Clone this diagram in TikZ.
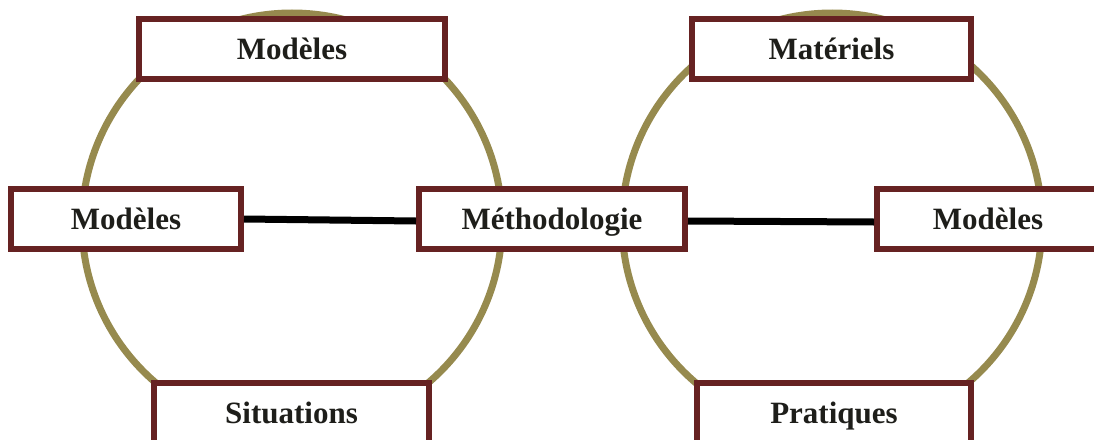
\documentclass[tikz,border=0pt]{standalone}
\usepackage{fontspec}
\setmainfont{Liberation Serif}
\definecolor{ringcol}{RGB}{150,138,78}
\definecolor{boxcol}{RGB}{102,34,34}
\definecolor{inkcol}{RGB}{30,30,26}

\tikzstyle{ring}=[draw=ringcol,line width=7pt]
\tikzstyle{box}=[draw=boxcol,fill=white,line width=6pt,minimum height=60pt,inner sep=0pt,text height=20.5pt,text depth=0pt,text=inkcol,font=\fontsize{31}{37}\selectfont\bfseries]
\tikzstyle{link}=[draw,line width=7pt]

\begin{document}
\begin{tikzpicture}[x=1pt,y=-1pt]
     \useasboundingbox (0,0) rectangle (1094,439);
     \clip (0,0) rectangle (1094,439);
     % First we draw the two rings
     \coordinate (cl) at (292,223);
     \coordinate (cr) at (832,223);
     \draw[ring] (cl) circle[radius=210pt];
     \draw[ring] (cr) circle[radius=210pt];

     % Then the boxes on top of them
     \foreach \pos/\name/\boxw/\txt in {{(292,49)/topl/306/Modèles},
       {(126,219)/midl/230/Modèles}, {(552,219)/meth/266/Méthodologie},
       {(291.5,413)/botl/275/Situations}}
     \node[box,minimum width=\boxw pt] (\name) at \pos {\txt};

     \foreach \pos/\name/\boxw/\txt in {{(831.5,49)/topr/279/Matériels},
       {(988,219)/midr/222/Modèles}, {(834,413)/botr/274/Pratiques}}
     \node[box,minimum width=\boxw pt] (\name) at \pos {\txt};

     % Connect the boxes on the middle line
     \path[link] (midl.east) -- ([yshift=-2pt]meth.west);
     \path[link] ([yshift=-2pt]meth.east) -- ([yshift=-3pt]midr.west);
 \end{tikzpicture}
\end{document}
